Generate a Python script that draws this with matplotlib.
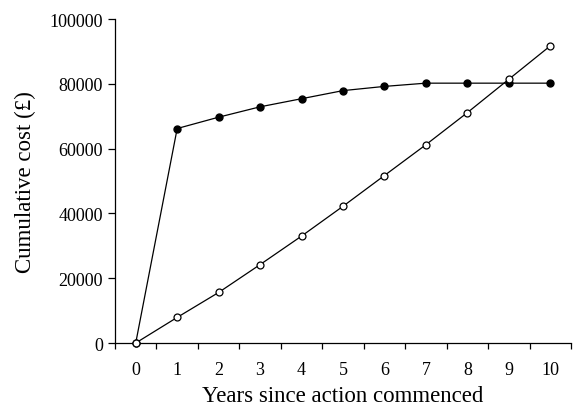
import numpy as np
import matplotlib.pyplot as plt
from matplotlib.ticker import FixedLocator

plt.rcParams['font.family'] = ['Liberation Serif', 'DejaVu Serif']

# data
years = [0, 1, 2, 3, 4, 5, 6, 7, 8, 9, 10]
cost_filled = [0, 66200, 69700, 72900, 75400, 77900, 79200, 80200, 80200, 80200, 80200]
cost_open = [0, 7900, 15600, 24200, 33000, 42200, 51700, 61200, 71100, 81400, 91700]
y_ticks = [0, 20000, 40000, 60000, 80000, 100000]

fig = plt.figure(figsize=(5.75, 4.06), dpi=100)
ax = fig.add_axes([0.2, 0.1527, 0.793, 0.798])

ax.plot(years, cost_filled, color='black', lw=0.9, marker='o', ms=5,
        mfc='black', mec='black', clip_on=False, zorder=3)
ax.plot(years, cost_open, color='black', lw=0.9, marker='o', ms=5,
        mfc='white', mec='black', mew=0.9, clip_on=False, zorder=4)

ax.set_xlim(-0.5, 10.5)
ax.set_ylim(0, 100000)
ax.set_yticks(y_ticks)
ax.set_xticks(years)
ax.xaxis.set_minor_locator(FixedLocator(np.arange(-0.5, 11, 1.0)))
ax.tick_params(axis='x', which='major', length=0, pad=13, labelsize=13)
ax.tick_params(axis='x', which='minor', length=4.5, width=0.9)
ax.tick_params(axis='y', length=5, width=0.9, labelsize=13)

for s in ['top', 'right']:
    ax.spines[s].set_visible(False)
for s in ['left', 'bottom']:
    ax.spines[s].set_linewidth(0.9)

ax.set_xlabel('Years since action commenced', fontsize=16.5, labelpad=5)
ax.set_ylabel('Cumulative cost (£)', fontsize=16.5, labelpad=10)

fig.savefig('out.png', dpi=100)
